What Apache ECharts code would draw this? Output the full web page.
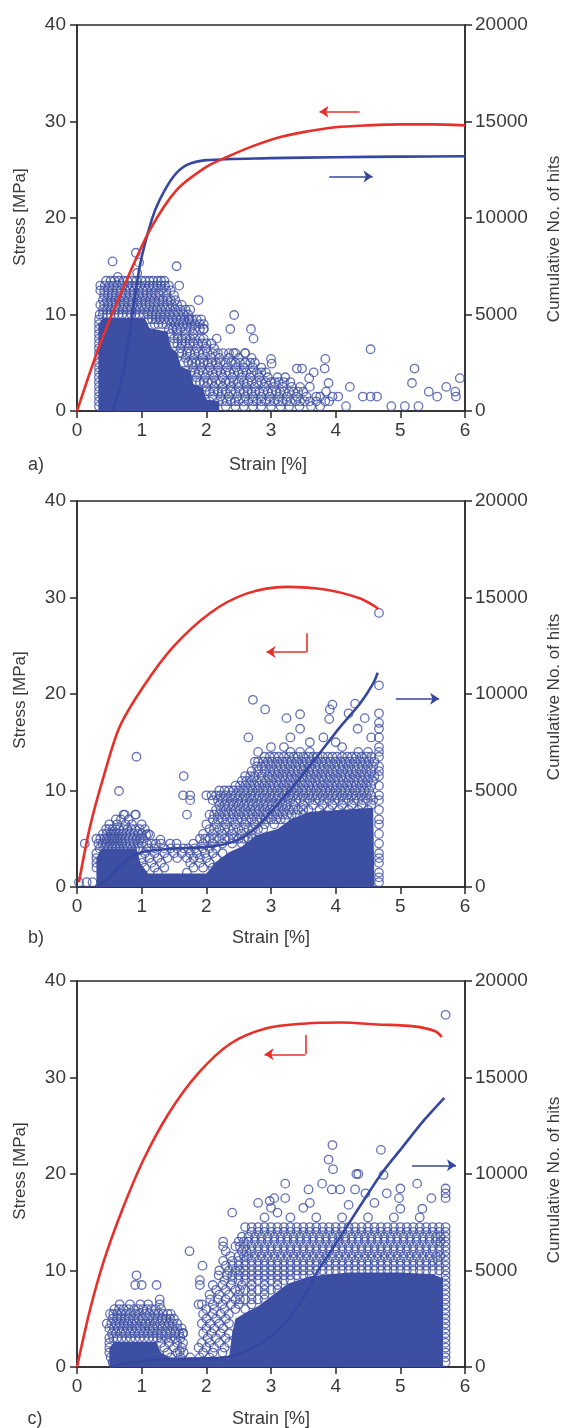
<!DOCTYPE html>
<html><head><meta charset="utf-8">
<script src="https://cdn.jsdelivr.net/npm/echarts@6/dist/echarts.min.js"></script>
<style>html,body{margin:0;padding:0;background:#fff}#c{width:564px;height:1428px}</style>
</head><body><div id="c"></div>
<script>
// ---------- axes / labels ----------
const strainTicks = [0, 1, 2, 3, 4, 5, 6];
const stressTicks = [0, 10, 20, 30, 40];
const hitTicks = [0, 5000, 10000, 15000, 20000];
const panelLabels = ['a)', 'b)', 'c)'];
const xTitle = 'Strain [%]';
const yLeftTitle = 'Stress [MPa]';
const yRightTitle = 'Cumulative No. of hits';

// ---------- panel a ----------
const stressA = [[0,0],[0.36,7.0],[0.77,13.6],[1.13,18.8],[1.54,22.9],[2.0,25.3],[2.31,26.3],[2.7,27.4],[3.09,28.3],[3.5,28.9],[4.0,29.4],[4.5,29.6],[5.0,29.7],[5.5,29.7],[6.0,29.6]];
const cumA = [[0.55,0],[0.7,1800],[0.845,4700],[0.974,7560],[1.155,9900],[1.28,10950],[1.49,12140],[1.7,12750],[2.0,13000],[3.0,13100],[4.0,13150],[5.0,13180],[6.0,13200]];
const denseA = [[0.33,0],[0.33,9.0],[0.4,9.6],[1.05,9.6],[1.12,8.6],[1.4,8.2],[1.45,6.6],[1.55,6.0],[1.6,4.6],[1.75,4.2],[1.8,2.8],[1.95,2.4],[2.0,1.2],[2.2,1.0],[2.2,0]];
const hitRowsA = [
 [13.5,[0.45,0.58,0.72,0.85,1.0,1.12,1.25,1.35]],
 [13,[0.36,0.5,0.62,0.78,0.92,1.05,1.18,1.3,1.42]],
 [12.5,[0.42,0.55,0.68,0.82,0.95,1.08,1.22,1.38]],
 [12,[0.48,0.6,0.75,0.88,1.02,1.15,1.28,1.5]],
 [11.5,[0.4,0.53,0.66,0.8,0.93,1.06,1.2,1.33,1.45]],
 [11,[0.36,0.48,0.6,0.72,0.86,1.0,1.12,1.26,1.4,1.55]],
 [10.5,[0.4,0.52,0.64,0.78,0.9,1.04,1.18,1.3,1.44,1.6,1.75]],
 [10,[0.35,0.46,0.58,0.7,0.84,0.96,1.1,1.22,1.36,1.5,1.65]],
 [9.5,[0.34,1.1,1.22,1.35,1.48,1.6,1.72,1.85]],
 [9,[0.34,1.2,1.32,1.45,1.58,1.7,1.82,1.96]],
 [8.5,[0.34,1.48,1.6,1.75,1.9]],
 [8,[0.34,1.45,1.55,1.68,1.8]],
 [7.5,[0.34,1.5,1.62,1.75,1.9]],
 [7,[0.34,1.55,1.68,1.8,1.94,2.08]],
 [6.5,[0.34,1.6,1.72,1.85,2.0,2.12]],
 [6,[0.34,1.62,1.75,1.88,2.02,2.18,2.35,2.6]],
 [5.5,[0.34,1.68,1.8,1.94,2.08,2.2,2.35,2.5,2.7]],
 [5,[0.34,1.65,1.78,1.9,2.02,2.15,2.3,2.45,2.6,2.75]],
 [4.5,[0.34,1.8,1.92,2.05,2.18,2.32,2.46,2.58,2.72,2.85]],
 [4,[0.34,1.82,1.95,2.1,2.22,2.36,2.5,2.62,2.78,2.92]],
 [3.5,[0.34,1.85,1.98,2.12,2.25,2.4,2.55,2.68,2.82,2.95,3.1,3.22]],
 [3,[0.34,1.9,2.02,2.15,2.3,2.42,2.58,2.7,2.85,3.0,3.12,3.3]],
 [2.5,[0.34,2.0,2.12,2.25,2.38,2.5,2.62,2.75,2.9,3.05,3.18,3.32,3.45]],
 [2,[0.34,2.05,2.18,2.3,2.45,2.58,2.7,2.82,2.95,3.08,3.2,3.35,3.5]],
 [1.5,[0.34,2.1,2.22,2.35,2.48,2.6,2.72,2.85,2.98,3.12,3.25,3.4,3.55,3.7]],
 [1,[0.34,2.25,2.38,2.5,2.65,2.78,2.92,3.05,3.18,3.3,3.45,3.6]],
 [0.5,[0.34,2.3,2.45,2.58,2.72,2.85,3.0,3.15,3.28,3.44]]
];
const hitRowsA2 = [
 [13.5,[0.52,0.65,0.78,0.92,1.06,1.18,1.3]],
 [13,[0.43,0.56,0.7,0.85,0.98,1.12,1.24,1.36]],
 [12.5,[0.36,0.48,0.62,0.75,0.88,1.02,1.15,1.3,1.45]],
 [12,[0.42,0.54,0.68,0.82,0.95,1.08,1.22,1.38]],
 [11.5,[0.46,0.6,0.73,0.86,1.0,1.13,1.27,1.4,1.52]],
 [11,[0.42,0.54,0.66,0.8,0.93,1.06,1.19,1.33,1.47,1.62]],
 [10.5,[0.46,0.58,0.71,0.84,0.97,1.11,1.24,1.37,1.52,1.68]],
 [10,[0.4,0.52,0.64,0.77,0.9,1.03,1.16,1.29,1.43,1.57,1.72]],
 [9.5,[1.16,1.28,1.42,1.54,1.66,1.78,1.92]],
 [9,[1.26,1.38,1.52,1.64,1.76,1.9]],
 [8.5,[1.42,1.54,1.68,1.82,1.96]],
 [7.5,[1.56,1.68,1.82,1.96]],
 [7,[1.5,1.62,1.74,1.87,2.0]],
 [6,[1.58,1.7,1.82,1.95,2.1,2.26,2.45]],
 [5,[1.72,1.84,1.96,2.08,2.22,2.38,2.52,2.68]],
 [4,[1.76,1.88,2.02,2.16,2.3,2.43,2.56,2.7,2.85]],
 [3,[1.84,1.96,2.08,2.22,2.36,2.5,2.64,2.78,2.92,3.06,3.2]],
 [2,[1.98,2.12,2.24,2.38,2.52,2.64,2.76,2.88,3.02,3.14,3.28,3.42]],
 [1,[2.05,2.18,2.32,2.44,2.58,2.72,2.85,2.98,3.12,3.24,3.38,3.52]]
];
const hitOutA = [[0.91,16.4],[0.55,15.5],[0.96,15.4],[1.54,15.0],[0.93,14.3],[0.63,13.9],[1.58,13.0],[1.88,11.5],[2.43,9.95],[1.74,9.5],[2.37,8.5],[2.69,8.5],[1.96,8.5],[2.73,7.5],[2.16,7.5],[4.54,6.4],[3.84,5.4],[3.83,4.4],[3.4,4.4],[3.48,4.4],[5.22,4.4],[3.0,5.4],[3.01,4.9],[2.6,6.0],[2.42,6.0],[5.92,3.4],[5.18,2.9],[3.89,2.9],[3.59,3.4],[3.66,4.0],[4.22,2.5],[5.44,2.0],[5.57,1.5],[5.71,2.5],[5.85,2.0],[5.86,1.5],[4.42,1.5],[4.54,1.5],[4.64,1.5],[3.95,1.5],[4.04,1.5],[3.76,1.5],[3.84,1.0],[4.16,0.5],[4.86,0.5],[5.07,0.5],[5.28,0.5],[3.76,0.5],[3.62,0.5],[3.9,1.0],[3.85,2.0],[3.6,2.5],[3.7,1.0]];
const arrowRedA = [[4.37,31.0],[3.75,31.0]];
const arrowBlueA = [[3.9,24.3],[4.57,24.3]];

// ---------- panel b ----------
const stressB = [[0.03,0.5],[0.2,6.2],[0.41,11.4],[0.66,16.6],[1.03,20.8],[1.49,24.9],[2.06,28.4],[2.62,30.4],[3.24,31.1],[3.86,30.8],[4.38,29.9],[4.6,29.1],[4.66,28.8]];
const cumB = [[0.3,0],[0.5,500],[0.7,1200],[0.85,1570],[1.03,1830],[1.54,2000],[2.06,2090],[2.42,2350],[2.73,2950],[2.98,3820],[3.34,5200],[3.71,6750],[4.07,8300],[4.38,9520],[4.58,10550],[4.65,11100]];
const denseB = [[0.3,0],[0.3,3.0],[0.38,4.0],[0.92,4.0],[0.98,2.5],[1.1,1.4],[2.0,1.4],[2.15,2.6],[2.35,3.6],[2.55,4.2],[2.78,5.4],[3.1,6.0],[3.3,7.0],[3.6,7.8],[4.58,8.2],[4.6,0]];
const hitRowsB = [
 [14,[3.3,3.45,3.6,4.35,4.5]],
 [13.5,[2.9,3.05,3.2,3.35,3.5,3.65,3.8,3.95,4.1,4.25,4.4,4.55]],
 [13,[2.8,2.95,3.1,3.25,3.4,3.55,3.7,3.85,4.0,4.15,4.3,4.45,4.6]],
 [12.5,[2.85,3.0,3.15,3.3,3.45,3.6,3.75,3.9,4.05,4.2,4.35,4.5]],
 [12,[2.7,2.9,3.05,3.2,3.35,3.5,3.65,3.8,3.95,4.1,4.25,4.4,4.55]],
 [11.5,[2.6,2.75,2.95,3.1,3.25,3.4,3.55,3.7,3.85,4.0,4.15,4.3,4.45,4.6]],
 [11,[2.55,2.7,2.85,3.0,3.15,3.3,3.45,3.6,3.75,3.9,4.05,4.2,4.35,4.5]],
 [10.5,[2.45,2.6,2.75,2.9,3.05,3.2,3.35,3.5,3.65,3.8,3.95,4.1,4.25,4.4,4.55]],
 [10,[2.2,2.35,2.5,2.65,2.8,2.95,3.1,3.25,3.4,3.55,3.7,3.85,4.0,4.15,4.3,4.45]],
 [9.5,[2.0,2.15,2.3,2.45,2.6,2.75,2.9,3.05,3.2,3.35,3.5,3.65,3.8,3.95,4.1,4.25,4.4,4.55]],
 [9,[2.1,2.25,2.4,2.55,2.7,2.85,3.0,3.15,3.3,3.45,3.6,3.75,3.9,4.05,4.2,4.35,4.5]],
 [8.5,[2.2,2.35,2.5,2.65,2.8,2.95,3.1,3.25,3.5,3.8,4.1,4.4]],
 [8,[2.15,2.3,2.45,2.6,2.75,2.9,3.05,3.2,3.35,3.5]],
 [7.5,[0.72,0.9,2.05,2.2,2.35,2.5,2.65,2.8,2.95,3.1,3.25,3.4]],
 [7,[0.6,0.68,0.8,2.1,2.25,2.4,2.55,2.7,2.85,3.0,3.15]],
 [6.5,[0.5,0.62,0.75,0.85,1.0,2.0,2.15,2.3,2.45,2.6,2.75,2.9,3.05]],
 [6,[0.45,0.55,0.65,0.78,0.9,1.05,2.05,2.2,2.35,2.5,2.65,2.8]],
 [5.5,[0.4,0.52,0.6,0.7,0.82,0.95,1.1,1.95,2.1,2.25,2.4,2.55,2.7]],
 [5,[0.3,0.42,0.5,0.58,0.68,0.8,0.92,1.02,1.9,2.05,2.2,2.35,2.5,2.65]],
 [4.5,[0.33,0.45,0.55,0.65,0.75,0.88,1.0,1.15,1.3,1.8,1.95,2.1,2.25,2.4,2.55]],
 [4,[0.35,0.48,0.6,0.72,0.85,0.95,1.1,1.2,1.35,1.45,1.55,1.65,1.72,1.82,1.95,2.05,2.15]],
 [3.5,[0.3,1.05,1.2,1.35,1.5,1.62,1.75,1.85,1.98,2.1,2.25]],
 [3,[0.3,1.0,1.12,1.25,1.4,1.55,1.7,1.8,1.9,2.0,2.15]],
 [2.5,[0.3,1.0,1.15,1.3,1.75,1.9,2.05]],
 [2,[0.3,1.05,1.2,1.35,1.8,1.95,2.1]],
 [1.5,[1.25,1.7]]
];
const hitRowsB2 = [
 [13.5,[2.98,3.12,3.28,3.42,3.58,3.72,3.88,4.02,4.18,4.32,4.48]],
 [13,[2.88,3.02,3.18,3.32,3.48,3.62,3.78,3.92,4.08,4.22,4.38,4.52]],
 [12.5,[2.78,2.92,3.08,3.22,3.38,3.52,3.68,3.82,3.98,4.12,4.28,4.42,4.58]],
 [12,[2.8,2.98,3.12,3.28,3.42,3.58,3.72,3.88,4.02,4.18,4.32,4.48]],
 [11.5,[2.68,2.85,3.02,3.18,3.32,3.48,3.62,3.78,3.92,4.08,4.22,4.38,4.52]],
 [11,[2.62,2.78,2.92,3.08,3.22,3.38,3.52,3.68,3.82,3.98,4.12,4.28,4.42,4.58]],
 [10.5,[2.52,2.68,2.82,2.98,3.12,3.28,3.42,3.58,3.72,3.88,4.02,4.18,4.32,4.48]],
 [10,[2.28,2.42,2.58,2.72,2.88,3.02,3.18,3.32,3.48,3.62,3.78,3.92,4.08,4.22,4.38,4.52]],
 [9.5,[2.08,2.22,2.38,2.52,2.68,2.82,2.98,3.12,3.28,3.42,3.58,3.72,3.88,4.02,4.18,4.32,4.48]],
 [9,[2.18,2.32,2.48,2.62,2.78,2.92,3.08,3.22,3.38,3.52,3.68,3.82,3.98,4.12,4.28,4.42,4.58]],
 [8.5,[2.28,2.42,2.58,2.72,2.88,3.02,3.18,3.35,3.65,3.95,4.25,4.55]],
 [8,[2.22,2.38,2.52,2.68,2.82,2.98,3.12,3.28,3.42,3.58,3.75,3.9,4.05,4.2,4.35,4.5]],
 [7.5,[2.12,2.28,2.42,2.58,2.72,2.88,3.02,3.18,3.32,3.5,3.8,4.1,4.4]],
 [7,[2.18,2.32,2.48,2.62,2.78,2.92,3.08,3.22]],
 [6,[0.5,0.6,0.72,0.84,0.97,2.12,2.28,2.42,2.58,2.72,2.88]],
 [5.5,[0.46,0.56,0.65,0.76,0.88,1.0]],
 [5,[0.36,0.46,0.54,0.63,0.74,0.86,0.97,1.98,2.12,2.28,2.42,2.58,2.72]],
 [4.5,[0.39,0.5,0.6,0.7,0.82,0.94,1.08,1.22]],
 [4,[0.42,0.54,0.66,0.78,0.9]]
];
const edgeColB = [0.5,1,1.5,2.5,3,3.5,4.5,5.5,6.5,7,8,9,9.5,10.5,11.5,12,12.5,13.5,14,14.5,15.5,16.4,17,18,20.9,28.4];
const hitOutB = [[0.12,4.5],[0.03,0.5],[0.15,0.5],[0.24,0.5],[0.92,13.5],[0.65,9.95],[1.65,11.5],[1.64,9.5],[1.75,9.5],[1.75,9.0],[1.7,7.5],[0.74,7.5],[0.91,7.5],[1.29,4.9],[1.44,4.5],[1.54,4.5],[1.13,5.4],[1.07,5.4],[2.72,19.4],[2.91,18.4],[3.45,17.9],[3.24,17.5],[3.45,16.4],[2.65,15.5],[3.95,18.9],[3.91,18.4],[3.9,17.4],[4.3,19.0],[4.2,18.0],[4.45,17.5],[4.34,16.4],[3.81,15.5],[4.0,15.0],[3.6,15.0],[3.3,15.5],[3.2,14.5],[4.1,14.5],[4.55,15.5],[2.8,14.0],[3.0,14.5],[2.75,13.0]];
const arrowRedB = [[3.55,26.3],[3.55,24.35],[2.93,24.35]];
const arrowBlueB = [[4.93,19.5],[5.6,19.5]];

// ---------- panel c ----------
const stressC = [[0,0],[0.2,5.9],[0.42,11.1],[0.7,16.3],[1.03,21.5],[1.42,26.3],[1.87,30.4],[2.37,33.5],[2.93,35.1],[3.54,35.6],[4.09,35.7],[4.65,35.5],[5.21,35.3],[5.54,34.8],[5.64,34.2]];
const cumC = [[0.5,0],[0.7,150],[1.0,300],[1.5,420],[2.0,450],[2.3,500],[2.6,800],[3.0,1600],[3.3,2600],[3.54,3800],[3.7,4850],[4.04,6580],[4.37,8300],[4.71,10030],[5.04,11420],[5.37,12800],[5.68,13950]];
const denseC = [[0.5,0],[0.5,2.0],[0.58,2.6],[1.22,2.6],[1.3,1.5],[1.45,0.9],[2.35,0.9],[2.4,3.5],[2.45,5.0],[2.6,5.6],[2.8,6.3],[3.0,7.3],[3.25,8.6],[3.6,9.4],[4.2,9.8],[5.0,9.8],[5.5,9.6],[5.66,9.2],[5.66,0]];
const hitRowsC = [
 [14.5,[2.6,2.8,3.0,3.2,3.4,3.6,3.8,4.0,4.2,4.4,4.6,4.8,5.0,5.2,5.4,5.6]],
 [14,[2.7,2.9,3.1,3.3,3.5,3.7,3.9,4.1,4.3,4.5,4.7,4.9,5.1,5.3,5.5]],
 [13.5,[2.55,2.75,2.95,3.15,3.35,3.55,3.75,3.95,4.15,4.35,4.55,4.75,4.95,5.15,5.35,5.55]],
 [13,[2.5,2.65,2.85,3.05,3.25,3.45,3.65,3.85,4.05,4.25,4.45,4.65,4.85,5.05,5.25,5.45,5.62]],
 [12.5,[2.26,2.45,2.6,2.8,3.0,3.2,3.4,3.6,3.8,4.0,4.2,4.4,4.6,4.8,5.0,5.2,5.4,5.6]],
 [12,[1.74,2.3,2.55,2.7,2.9,3.1,3.3,3.5,3.7,3.9,4.1,4.3,4.5,4.7,4.9,5.1,5.3,5.5]],
 [11.5,[2.37,2.5,2.65,2.85,3.05,3.25,3.45,3.65,3.85,4.05,4.25,4.45,4.65,4.85,5.05,5.25,5.45,5.62]],
 [11,[2.26,2.4,2.6,2.8,3.0,3.2,3.4,3.6,3.8,4.0,4.2,4.4,4.6,4.8,5.0,5.2,5.4,5.58]],
 [10.5,[1.94,2.3,2.5,2.7,2.9,3.1,3.3,3.5,3.7,3.9,4.1,4.3,4.5,4.7,4.9,5.1,5.3,5.5]],
 [10,[2.2,2.35,2.45,2.6,2.8,3.0,3.2,3.4,3.6,3.8,4.0,4.2,4.4,4.6,4.8,5.0,5.2,5.4,5.6]],
 [9.5,[0.92,2.19,2.32,2.5,2.7,2.9,3.1,3.3,3.5]],
 [9,[1.9,2.28,2.4,2.6,2.8,3.0,3.2]],
 [8.5,[0.9,1.0,1.23,1.9,2.1,2.25,2.38,2.55,2.7,2.9,3.1]],
 [8,[2.15,2.3,2.45,2.6,2.8,3.0]],
 [7.5,[2.05,2.2,2.35,2.5,2.7,2.9]],
 [7,[1.28,2.06,2.18,2.3,2.45,2.6,2.8]],
 [6.5,[0.66,0.82,0.98,1.1,1.28,1.88,1.93,2.1,2.25,2.38,2.5,2.7]],
 [6,[0.58,0.72,0.88,1.02,1.15,1.3,2.0,2.12,2.28,2.45,2.6]],
 [5.5,[0.51,0.62,0.75,0.9,1.05,1.2,1.33,1.45,1.95,2.1,2.22,2.35]],
 [5,[0.55,0.68,0.8,0.95,1.1,1.25,1.38,1.5,2.0,2.15,2.3]],
 [4.5,[0.46,0.6,0.72,0.85,1.0,1.12,1.28,1.42,1.55,1.93,2.06,2.2,2.35]],
 [4,[0.5,0.64,0.78,0.92,1.05,1.18,1.32,1.48,1.62,2.0,2.12,2.26]],
 [3.5,[0.54,0.68,0.82,0.96,1.1,1.24,1.38,1.52,1.64,1.95,2.08,2.22,2.35]],
 [3,[0.5,0.62,0.76,0.9,1.04,1.18,1.3,1.45,1.6,2.02,2.15,2.3]],
 [2.5,[0.5,1.3,1.42,1.55,1.64,1.93,2.05,2.2,2.35]],
 [2,[0.5,1.35,1.5,1.62,1.88,2.0,2.12,2.28]],
 [1.5,[0.5,1.4,1.55,1.65,1.95,2.1,2.25]],
 [1,[0.52,1.45,1.6,1.75,1.9,2.05]],
 [0.5,[0.55,0.7,0.85,1.0,1.15,1.3,1.45,1.6,1.75,1.9,2.05,2.2]]
];
const hitRowsC2 = [
 [14.5,[2.7,2.9,3.1,3.3,3.5,3.7,3.9,4.1,4.3,4.5,4.7,4.9,5.1,5.3,5.5]],
 [14,[2.8,3.0,3.2,3.4,3.6,3.8,4.0,4.2,4.4,4.6,4.8,5.0,5.2,5.4,5.6]],
 [13.5,[2.65,2.85,3.05,3.25,3.45,3.65,3.85,4.05,4.25,4.45,4.65,4.85,5.05,5.25,5.45,5.62]],
 [13,[2.58,2.75,2.95,3.15,3.35,3.55,3.75,3.95,4.15,4.35,4.55,4.75,4.95,5.15,5.35,5.55]],
 [12.5,[2.52,2.7,2.9,3.1,3.3,3.5,3.7,3.9,4.1,4.3,4.5,4.7,4.9,5.1,5.3,5.5]],
 [12,[2.62,2.8,3.0,3.2,3.4,3.6,3.8,4.0,4.2,4.4,4.6,4.8,5.0,5.2,5.4,5.6]],
 [11.5,[2.58,2.75,2.95,3.15,3.35,3.55,3.75,3.95,4.15,4.35,4.55,4.75,4.95,5.15,5.35,5.55]],
 [11,[2.5,2.7,2.9,3.1,3.3,3.5,3.7,3.9,4.1,4.3,4.5,4.7,4.9,5.1,5.3,5.5]],
 [10.5,[2.4,2.6,2.8,3.0,3.2,3.4,3.6,3.8,4.0,4.2,4.4,4.6,4.8,5.0,5.2,5.4,5.6]],
 [10,[2.52,2.7,2.9,3.1,3.3,3.5,3.7,3.9,4.1,4.3,4.5,4.7,4.9,5.1,5.3,5.5]],
 [9.5,[2.4,2.6,2.8,3.0,3.2,3.4,3.6]],
 [9,[2.5,2.7,2.9,3.1,3.3]],
 [8,[2.52,2.7,2.9,3.1]],
 [7,[2.52,2.7,2.9]],
 [6,[0.65,0.8,0.95,1.08,1.22]],
 [5.5,[0.56,0.68,0.82,0.96,1.12,1.26,1.4]],
 [5,[0.62,0.74,0.88,1.02,1.18,1.32,1.44]],
 [4.5,[0.53,0.66,0.78,0.92,1.06,1.2,1.35,1.48]],
 [4,[0.57,0.71,0.85,0.98,1.12,1.25,1.4,1.55]],
 [3.5,[0.6,0.75,0.89,1.03,1.17,1.31,1.45,1.58]],
 [3,[0.56,0.69,0.83,0.97,1.11,1.24,1.38,1.52]]
];
const edgeColC = [0.5,1,1.5,2,2.5,3,3.5,4,4.5,5,5.5,6,6.5,7,7.5,8,8.5,9,9.5,10,10.5,11,11.5,12,12.5,13,13.5,14,14.5,17.5,18,18.5,36.5];
const hitOutC = [[2.4,16.0],[2.8,17.0],[2.98,17.2],[3.05,17.5],[3.22,17.5],[3.22,19.0],[3.58,18.4],[3.79,19.0],[3.94,18.4],[4.07,18.4],[4.3,18.4],[4.46,18.0],[3.95,23.0],[3.89,21.5],[3.96,20.5],[4.32,20.0],[4.35,20.0],[4.7,22.5],[4.74,19.9],[5.0,18.5],[5.26,19.0],[5.48,17.5],[4.98,17.5],[5.0,16.4],[5.34,16.4],[4.79,18.0],[3.0,16.5],[3.5,16.5],[3.6,17.0],[2.9,15.5],[3.3,15.5],[3.7,15.5],[4.1,15.5],[4.5,15.5],[4.9,15.5],[5.3,15.5],[3.1,16.0],[4.2,16.8],[4.6,17.0],[1.64,3.5],[1.59,1.6],[2.26,13.0]];
const arrowRedC = [[3.53,34.4],[3.53,32.4],[2.9,32.4]];
const arrowBlueC = [[5.18,20.9],[5.86,20.9]];

const fromRows = rows => rows.flatMap(([s, xs]) => xs.map(x => [x, s]));
const colX = (col, x) => col.map(s => [x, s]);
const panels = [
  {stress: stressA, cum: cumA, dense: denseA, hits: fromRows(hitRowsA).concat(fromRows(hitRowsA2), hitOutA), red: arrowRedA, blue: arrowBlueA, top: 25, lab: [36,465], xt: 268, yl: 217, yr: 239},
  {stress: stressB, cum: cumB, dense: denseB, hits: fromRows(hitRowsB).concat(fromRows(hitRowsB2), colX(edgeColB, 4.67), hitOutB), red: arrowRedB, blue: arrowBlueB, top: 501, lab: [36,938], xt: 271, yl: 700, yr: 697},
  {stress: stressC, cum: cumC, dense: denseC, hits: fromRows(hitRowsC).concat(fromRows(hitRowsC2), colX(edgeColC, 5.7), hitOutC), red: arrowRedC, blue: arrowBlueC, top: 981, lab: [35,1419], xt: 271, yl: 1171, yr: 1180}
];

const RED = '#e8302a', BLUE = '#3547a0', HIT = '#3d4fa3', AX = '#2a2a2a', TXT = '#3a3a3a';
const FONT = '"Liberation Sans", Arial, sans-serif';
const tickFont = {color: TXT, fontSize: 19, fontFamily: FONT};

function segs(pts, color) {
  const out = [];
  for (let i = 0; i < pts.length - 1; i++) {
    const last = i === pts.length - 2;
    out.push([{coord: pts[i], symbol: 'none', lineStyle: {color, width: 1.6, type: 'solid'}},
              {coord: pts[i + 1], symbol: last ? 'arrow' : 'none', symbolSize: last ? 9 : 0}]);
  }
  return out;
}

const grid = [], xAxis = [], yAxis = [], series = [], graphic = [];
panels.forEach((p, i) => {
  grid.push({left: 77, width: 388, top: p.top, height: 386, show: true, borderColor: AX, borderWidth: 1.5, backgroundColor: 'transparent'});
  xAxis.push({type: 'value', gridIndex: i, min: strainTicks[0], max: strainTicks[strainTicks.length - 1], interval: 1,
    axisLine: {lineStyle: {color: AX, width: 1.5}}, axisTick: {length: 7, lineStyle: {color: AX, width: 1.5}},
    axisLabel: Object.assign({margin: 10}, tickFont), splitLine: {show: false}});
  yAxis.push({type: 'value', gridIndex: i, position: 'left', min: stressTicks[0], max: stressTicks[stressTicks.length - 1], interval: 10,
    axisLine: {show: true, lineStyle: {color: AX, width: 1.5}}, axisTick: {show: true, length: 7, lineStyle: {color: AX, width: 1.5}},
    axisLabel: Object.assign({margin: 11}, tickFont), splitLine: {show: false}});
  yAxis.push({type: 'value', gridIndex: i, position: 'right', min: hitTicks[0], max: hitTicks[hitTicks.length - 1], interval: 5000,
    axisLine: {show: true, lineStyle: {color: AX, width: 1.5}}, axisTick: {show: true, length: 7, lineStyle: {color: AX, width: 1.5}},
    axisLabel: Object.assign({margin: 10, formatter: v => String(v)}, tickFont), splitLine: {show: false}});
  series.push({type: 'line', xAxisIndex: i, yAxisIndex: 2 * i, data: p.dense, symbol: 'none', silent: true, z: 1,
    lineStyle: {width: 0, color: HIT}, areaStyle: {color: HIT, opacity: 1}});
  series.push({type: 'scatter', xAxisIndex: i, yAxisIndex: 2 * i, data: p.hits, symbol: 'circle', symbolSize: 8.5, silent: true, z: 2,
    itemStyle: {color: 'rgba(255,255,255,0)', borderColor: HIT, borderWidth: 1.3}});
  series.push({type: 'line', xAxisIndex: i, yAxisIndex: 2 * i + 1, data: p.cum, smooth: 0.3, showSymbol: false, symbol: 'none', z: 5,
    lineStyle: {color: BLUE, width: 2.6}});
  series.push({type: 'line', xAxisIndex: i, yAxisIndex: 2 * i, data: p.stress, smooth: 0.3, showSymbol: false, symbol: 'none', z: 6,
    lineStyle: {color: RED, width: 2.6},
    markLine: {silent: true, animation: false, label: {show: false}, symbol: ['none', 'arrow'],
      data: segs(p.red, RED).concat(segs(p.blue, BLUE))}});
  graphic.push({type: 'text', x: p.lab[0], y: p.lab[1], style: {text: panelLabels[i], font: '18px ' + FONT, fill: TXT, textAlign: 'center', textVerticalAlign: 'middle'}});
  graphic.push({type: 'text', x: p.xt, y: p.lab[1], style: {text: xTitle, font: '18px ' + FONT, fill: TXT, textAlign: 'center', textVerticalAlign: 'middle'}});
  graphic.push({type: 'text', x: 20.5, y: p.yl, rotation: Math.PI / 2, style: {text: yLeftTitle, font: '17px ' + FONT, fill: TXT, textAlign: 'center', textVerticalAlign: 'middle'}});
  graphic.push({type: 'text', x: 554, y: p.yr, rotation: Math.PI / 2, style: {text: yRightTitle, font: '17px ' + FONT, fill: TXT, textAlign: 'center', textVerticalAlign: 'middle'}});
});

const chart = echarts.init(document.getElementById('c'), null, {renderer: 'canvas'});
chart.setOption({animation: false, backgroundColor: '#fff', grid, xAxis, yAxis, series, graphic});
</script></body></html>
